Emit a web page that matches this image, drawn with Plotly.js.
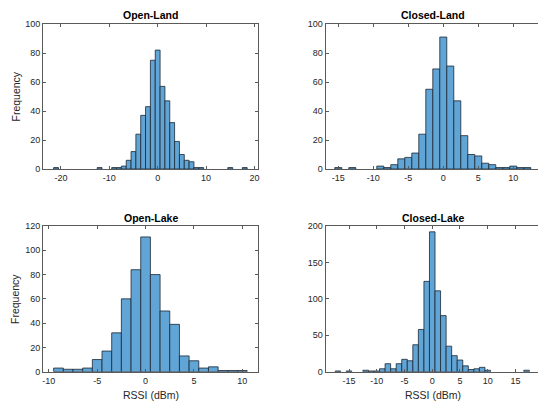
<!DOCTYPE html>
<html>
<head>
<meta charset="utf-8">
<script src="https://cdn.plot.ly/plotly-3.0.1.min.js"></script>
<style>
html, body { margin: 0; padding: 0; overflow: hidden; background: #fff; }
#chart { width: 541px; height: 403px; }
</style>
</head>
<body>
<div id="chart"></div>
<script>
// ---- Data (bin centres in dBm, counts) ----
const openLandBins   = [-21, -12, -9, -8, -7, -6, -5, -4, -3, -2, -1, 0, 1, 2, 3, 4, 5, 6, 7, 8, 9, 15, 18];
const openLandCounts = [1, 1, 1, 1, 2, 6, 12, 24, 37, 43, 75, 82, 57, 47, 32, 19, 10, 6, 5, 1, 1, 1, 1];

const closedLandBins   = [-15, -13, -9, -8, -7, -6, -5, -4, -3, -2, -1, 0, 1, 2, 3, 4, 5, 6, 7, 8, 9, 10, 11, 12];
const closedLandCounts = [1, 1, 2, 1, 3, 7, 8, 11, 24, 55, 69, 91, 71, 47, 23, 10, 9, 4, 3, 1, 1, 2, 1, 1];

const openLakeBins   = [-9, -8, -7, -6, -5, -4, -3, -2, -1, 0, 1, 2, 3, 4, 5, 6, 7, 8, 9, 10];
const openLakeCounts = [3, 2, 2, 3, 10, 17, 32, 60, 84, 111, 80, 50, 39, 13, 9, 3, 4, 1, 1, 1];

const closedLakeBins   = [-17, -15, -12, -11, -10, -9, -8, -7, -6, -5, -4, -3, -2, -1, 0, 1, 2, 3, 4, 5, 6, 7, 8, 9, 10, 17];
const closedLakeCounts = [1, 1, 2, 1, 1, 4, 11, 4, 11, 17, 15, 37, 58, 124, 192, 111, 77, 35, 22, 16, 8, 3, 4, 6, 2, 2];

const titles = ["Open-Land", "Closed-Land", "Open-Lake", "Closed-Lake"];

const openLandXTicks   = [-20, -10, 0, 10, 20];
const closedLandXTicks = [-15, -10, -5, 0, 5, 10];
const openLakeXTicks   = [-10, -5, 0, 5, 10];
const closedLakeXTicks = [-15, -10, -5, 0, 5, 10, 15];

const landYTicks       = [0, 20, 40, 60, 80, 100];
const openLakeYTicks   = [0, 20, 40, 60, 80, 100, 120];
const closedLakeYTicks = [0, 50, 100, 150, 200];

const yLabel = "Frequency";
const xLabel = "RSSI (dBm)";

// ---- Styling ----
const FONT = "Liberation Sans, Arial, Helvetica, sans-serif";
const barFill = "rgb(96,165,213)";
const barEdge = "#1c2733";
const axisCol = "#5a5a5a";

function barTrace(x, y, xa, ya) {
  return {
    type: "bar", x: x, y: y, width: 1, xaxis: xa, yaxis: ya,
    marker: { color: barFill, line: { color: barEdge, width: 0.8 } },
    hoverinfo: "x+y"
  };
}

const txt = v => String(v); // hyphen-minus like the reference

function axis(domain, range, ticks, anchor) {
  return {
    domain: domain, range: range, anchor: anchor,
    tickmode: "array", tickvals: ticks, ticktext: ticks.map(txt),
    ticks: "inside", ticklen: 3, tickwidth: 1, tickcolor: axisCol,
    showline: true, linecolor: axisCol, linewidth: 1, mirror: "allticks",
    showgrid: false, zeroline: false, fixedrange: true,
    tickfont: { family: FONT, size: 9, color: "#262626" }
  };
}

const W = 541, H = 403;
const colL = [43 / W, 258.3 / W];
const colR = [325.5 / W, 1.0];
const rowT = [1 - 169 / H, 1 - 24 / H];
const rowB = [1 - 371.7 / H, 1 - 226 / H];

const data = [
  barTrace(openLandBins, openLandCounts, "x", "y"),
  barTrace(closedLandBins, closedLandCounts, "x2", "y2"),
  barTrace(openLakeBins, openLakeCounts, "x3", "y3"),
  barTrace(closedLakeBins, closedLakeCounts, "x4", "y4")
];

function ann(text, x, y, opts) {
  return Object.assign({
    text: text, x: x, y: y, xref: "paper", yref: "paper",
    xanchor: "center", yanchor: "middle", showarrow: false,
    font: { family: FONT, size: 10.5, color: "#262626" }
  }, opts || {});
}

const layout = {
  width: W, height: H,
  margin: { l: 0, r: 0, t: 0, b: 0 },
  paper_bgcolor: "#fff", plot_bgcolor: "#fff",
  showlegend: false, bargap: 0,
  xaxis:  axis(colL, [-23.7, 20.8], openLandXTicks, "y"),
  yaxis:  axis(rowT, [0, 100], landYTicks, "x"),
  xaxis2: axis(colR, [-16.83, 13.96], closedLandXTicks, "y2"),
  yaxis2: axis(rowT, [0, 100], landYTicks, "x2"),
  xaxis3: axis(colL, [-10.6, 11.65], openLakeXTicks, "y3"),
  yaxis3: axis(rowB, [0, 120], openLakeYTicks, "x3"),
  xaxis4: axis(colR, [-19.24, 19.6], closedLakeXTicks, "y4"),
  yaxis4: axis(rowB, [0, 200], closedLakeYTicks, "x4"),
  annotations: [
    ann(titles[0], (colL[0] + colL[1]) / 2, 1 - 15 / H, { font: { family: FONT, size: 10.5, color: "#000", weight: "bold" } }),
    ann(titles[1], (325.5 / W + 1) / 2, 1 - 15 / H, { font: { family: FONT, size: 10.5, color: "#000", weight: "bold" } }),
    ann(titles[2], (colL[0] + colL[1]) / 2, 1 - 218 / H, { font: { family: FONT, size: 10.5, color: "#000", weight: "bold" } }),
    ann(titles[3], (325.5 / W + 1) / 2, 1 - 218 / H, { font: { family: FONT, size: 10.5, color: "#000", weight: "bold" } }),
    ann(yLabel, 15 / W, 1 - 96.5 / H, { textangle: -90 }),
    ann(yLabel, 15 / W, 1 - 299 / H, { textangle: -90 }),
    ann(xLabel, (colL[0] + colL[1]) / 2, 1 - 395 / H),
    ann(xLabel, (325.5 / W + 1) / 2, 1 - 395 / H)
  ]
};

Plotly.newPlot("chart", data, layout, { staticPlot: true, displayModeBar: false });
</script>
</body>
</html>
